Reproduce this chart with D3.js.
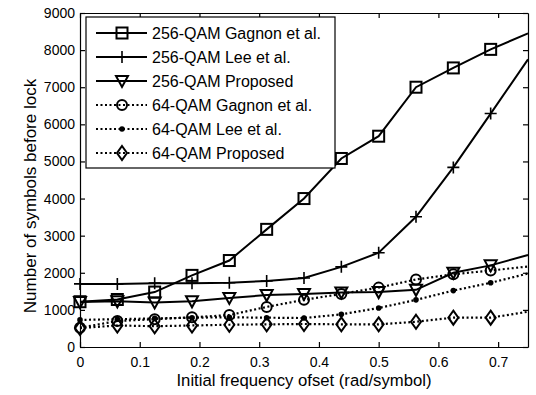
<!DOCTYPE html>
<html>
<head>
<meta charset="utf-8">
<script src="https://cdn.jsdelivr.net/npm/d3@7"></script>
<style>
	body { margin: 0; background: #fff; }
	text { font-family: "Liberation Sans", Arial, sans-serif; fill: #000; }
</style>
</head>
<body>
<svg id="chart" width="536" height="395"></svg>
<script>
// frequency offsets (rad/symbol)
var offsets = [0, 0.0625, 0.125, 0.1875, 0.25, 0.3125, 0.375, 0.4375, 0.5, 0.5625, 0.625, 0.6875, 0.75];

var gagnon256 = [1220, 1280, 1480, 1930, 2330, 3170, 4000, 5080, 5680, 7000, 7520, 8020, 8450];
var lee256 = [1700, 1700, 1720, 1720, 1730, 1780, 1860, 2160, 2540, 3510, 4840, 6290, 7750];
var proposed256 = [1210, 1230, 1200, 1230, 1320, 1400, 1430, 1470, 1480, 1540, 2000, 2200, 2480];
var gagnon64 = [520, 700, 750, 800, 860, 1080, 1270, 1430, 1600, 1820, 1960, 2060, 2170];
var lee64 = [730, 750, 770, 790, 800, 790, 780, 880, 1050, 1270, 1520, 1730, 1980];
var proposed64 = [510, 580, 560, 580, 600, 610, 620, 610, 610, 680, 790, 790, 950];

var seriesNames = ["256-QAM Gagnon et al.", "256-QAM Lee et al.", "256-QAM Proposed",
					"64-QAM Gagnon et al.", "64-QAM Lee et al.", "64-QAM Proposed"];
var seriesValues = [gagnon256, lee256, proposed256, gagnon64, lee64, proposed64];
var seriesMarkers = ["square", "plus", "triangle", "circle", "dot", "diamond"];
var seriesDotted = [false, false, false, true, true, true];

var xTicks = [0, 0.1, 0.2, 0.3, 0.4, 0.5, 0.6, 0.7];
var yTicks = [0, 1000, 2000, 3000, 4000, 5000, 6000, 7000, 8000, 9000];

var margin = {left: 80, right: 8, top: 13, bottom: 48};
var width = 536, height = 395;

var svg = d3.select("#chart");
var g = svg.append("g");

var xScale = d3.scaleLinear()
	.domain([0, 0.75])
	.range([margin.left, width - margin.right]);

var yScale = d3.scaleLinear()
	.domain([0, 9000])
	.range([height - margin.bottom, margin.top]);

// box + inward ticks on all sides
var tickLen = 5;
g.append("g")
	.attr("transform", "translate(0," + yScale(0) + ")")
	.call(d3.axisBottom(xScale).tickValues(xTicks).tickSizeInner(-tickLen).tickSizeOuter(0).tickPadding(10)
		.tickFormat(function(d) { return d === 0 ? "0" : d3.format(".1f")(d); }));
g.append("g")
	.attr("transform", "translate(0," + yScale(9000) + ")")
	.call(d3.axisTop(xScale).tickValues(xTicks).tickSizeInner(-tickLen).tickSizeOuter(0).tickFormat(""));
g.append("g")
	.attr("transform", "translate(" + xScale(0) + ",0)")
	.call(d3.axisLeft(yScale).tickValues(yTicks).tickSizeInner(-tickLen).tickSizeOuter(0).tickPadding(5)
		.tickFormat(d3.format("d")));
g.append("g")
	.attr("transform", "translate(" + xScale(0.75) + ",0)")
	.call(d3.axisRight(yScale).tickValues(yTicks).tickSizeInner(-tickLen).tickSizeOuter(0).tickFormat(""));

g.selectAll(".domain").attr("stroke", "#000").attr("stroke-width", 1.2);
g.selectAll(".tick line").attr("stroke", "#000").attr("stroke-width", 1.2);
g.selectAll(".tick text").style("font-size", "14px").style("font-family", "'Liberation Sans', Arial, sans-serif");

function drawMarker(sel, type, x, y) {
	var m = sel.append("g").attr("transform", "translate(" + x + "," + y + ")");
	var st = {fill: "none", stroke: "#000", "stroke-width": 2};
	function apply(el) { for (var k in st) el.attr(k, st[k]); return el; }
	if (type === "square") {
		apply(m.append("rect").attr("x", -5.5).attr("y", -5.5).attr("width", 11).attr("height", 11));
	} else if (type === "plus") {
		apply(m.append("path").attr("d", "M-6,0H6M0,-6V6")).attr("stroke-width", 1.6);
	} else if (type === "triangle") {
		apply(m.append("path").attr("d", "M-6,-5L6,-5L0,6Z"));
	} else if (type === "circle") {
		apply(m.append("circle").attr("r", 5));
	} else if (type === "dot") {
		m.append("circle").attr("r", 2.8).attr("fill", "#000");
	} else if (type === "diamond") {
		apply(m.append("path").attr("d", "M0,-7L5,0L0,7L-5,0Z"));
	}
}

var line = d3.line()
	.x(function(d, i) { return xScale(offsets[i]); })
	.y(function(d) { return yScale(d); });

var plot = g.append("g");
seriesValues.forEach(function(vals, s) {
	plot.append("path")
		.attr("d", line(vals))
		.attr("fill", "none")
		.attr("stroke", "#000")
		.attr("stroke-width", seriesDotted[s] ? 2.2 : 2)
		.attr("stroke-dasharray", seriesDotted[s] ? "2,2.5" : null);
	vals.forEach(function(v, i) {
		if (i < vals.length - 1) drawMarker(plot, seriesMarkers[s], xScale(offsets[i]), yScale(v));
	});
});

// legend
var legend = g.append("g");
legend.append("rect")
	.attr("x", 86).attr("y", 17)
	.attr("width", 249).attr("height", 151)
	.attr("fill", "#fff").attr("stroke", "#000").attr("stroke-width", 1.2);

seriesNames.forEach(function(name, i) {
	var ly = 33 + i * 24;
	legend.append("line")
		.attr("x1", 96).attr("x2", 147)
		.attr("y1", ly).attr("y2", ly)
		.attr("stroke", "#000")
		.attr("stroke-width", seriesDotted[i] ? 2.2 : 2)
		.attr("stroke-dasharray", seriesDotted[i] ? "2,2.5" : null);
	drawMarker(legend, seriesMarkers[i], 122, ly);
	legend.append("text")
		.attr("x", 152).attr("y", ly + 6)
		.style("font-size", "16px")
		.text(name);
});

g.append("text")
	.attr("x", (xScale(0) + xScale(0.75)) / 2)
	.attr("y", height - 9)
	.style("text-anchor", "middle")
	.style("font-size", "16.7px")
	.text("Initial frequency ofset (rad/symbol)");

g.append("text")
	.attr("transform", "translate(36," + ((yScale(0) + yScale(9000)) / 2 + 16) + ") rotate(-90)")
	.style("text-anchor", "middle")
	.style("font-size", "17px")
	.text("Number of symbols before lock");
</script>
</body>
</html>
